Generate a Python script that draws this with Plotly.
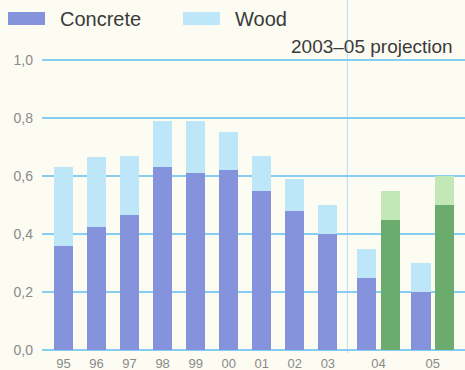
import plotly.graph_objects as go

# ---- data ----
years = ["95", "96", "97", "98", "99", "00", "01", "02", "03"]
concrete = [0.36, 0.425, 0.465, 0.63, 0.61, 0.62, 0.55, 0.48, 0.40]
wood = [0.27, 0.24, 0.205, 0.16, 0.18, 0.13, 0.12, 0.11, 0.10]

proj_years = ["04", "05"]
proj_concrete_low = [0.25, 0.20]
proj_wood_low = [0.10, 0.10]
proj_concrete_high = [0.45, 0.50]
proj_wood_high = [0.10, 0.10]

yticks = [0.0, 0.2, 0.4, 0.6, 0.8, 1.0]

# ---- styles / layout ----
C_CONCRETE = "#8592dc"
C_WOOD = "#bde6f9"
C_GREEN = "#6bab6e"
C_LGREEN = "#c3e8b8"
C_GRID = "#86cdf3"
C_DIV = "#b5def4"
C_BG = "#fcfcf3"
C_TEXT = "#8a8a8a"
BAR_W = 0.58

# positions (axis units; 1 unit = one bar slot)
x_hist = list(range(len(years)))
pair_start = len(years) + 0.18
pair_gap = 1.64
x_low = [pair_start + i * pair_gap for i in range(len(proj_years))]
x_high = [x + 0.71 for x in x_low]
x_pair_center = [(a + b) / 2 for a, b in zip(x_low, x_high)]

fig = go.Figure()
fig.add_bar(x=x_hist + x_low, y=concrete + proj_concrete_low, width=BAR_W,
            marker=dict(color=C_CONCRETE, line=dict(width=0)), name="Concrete")
fig.add_bar(x=x_hist + x_low, y=wood + proj_wood_low, width=BAR_W,
            marker=dict(color=C_WOOD, line=dict(width=0)), name="Wood")
fig.add_bar(x=x_high, y=proj_concrete_high, width=BAR_W,
            marker=dict(color=C_GREEN, line=dict(width=0)), name="Concrete projection")
fig.add_bar(x=x_high, y=proj_wood_high, width=BAR_W,
            marker=dict(color=C_LGREEN, line=dict(width=0)), name="Wood projection")

PAD = 0.0103
fig.update_layout(
    width=465, height=370,
    margin=dict(l=42, r=0, t=57, b=17),
    barmode="stack",
    showlegend=False,
    paper_bgcolor=C_BG, plot_bgcolor=C_BG,
    separators=", ",
    font=dict(family="Liberation Sans, Arial, sans-serif", color=C_TEXT, size=13),
    xaxis=dict(range=[-0.65, 12.15], tickmode="array",
               tickvals=x_hist + x_pair_center, ticktext=years + proj_years,
               showgrid=False, zeroline=False, showline=False, ticks="",
               ticklabelstandoff=1, automargin=False,
               tickfont=dict(size=13, color=C_TEXT)),
    yaxis=dict(range=[-PAD, 1.0 + PAD], tickmode="array", tickvals=yticks,
               tickformat=".1f", showgrid=True, gridcolor=C_GRID, gridwidth=2,
               zeroline=False, showline=False, ticks="", ticklabelstandoff=8,
               automargin=False,
               tickfont=dict(size=14, color=C_TEXT)),
)

# divider between actual and projection
fig.add_shape(type="line", xref="x", yref="paper",
              x0=len(years) - 0.41, x1=len(years) - 0.41, y0=0, y1=1.25,
              line=dict(color=C_DIV, width=1), layer="below")

# manual legend
def py(px):
    return (353 - px) / 296

legend_items = [("Concrete", C_CONCRETE, 8, 58), ("Wood", C_WOOD, 183, 233)]
for label, col, sx, tx in legend_items:
    fig.add_shape(type="rect", xref="paper", yref="paper",
                  x0=(sx - 42) / 423, x1=(sx + 37 - 42) / 423,
                  y0=py(25), y1=py(12),
                  line=dict(width=0), fillcolor=col)
    fig.add_annotation(text=label, xref="paper", yref="paper",
                       x=(tx - 42) / 423, y=py(19),
                       xanchor="left", yanchor="middle", showarrow=False,
                       font=dict(size=20, color="#3a3a3a"))

fig.add_annotation(text="2003\u201305 projection", xref="paper", yref="paper",
                   x=(455 - 42) / 423, y=py(46), xanchor="right", yanchor="middle",
                   showarrow=False, font=dict(size=19, color="#3a3a3a"))

fig.write_html("out.html")
